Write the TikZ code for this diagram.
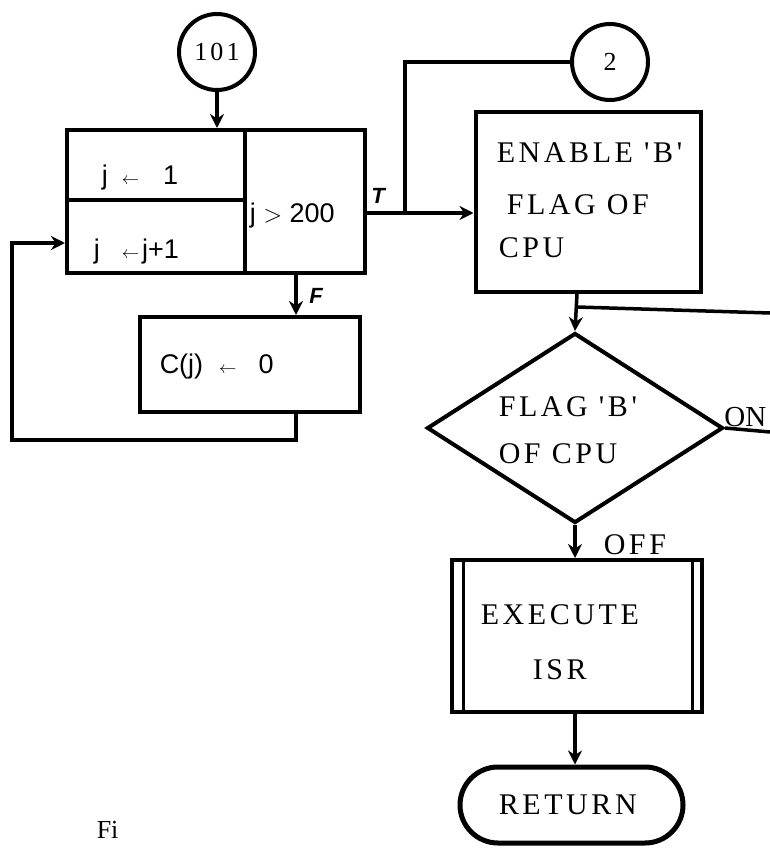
\documentclass[tikz,border=0pt]{standalone}
\usepackage{fontspec}
\setmainfont{Liberation Serif}
\setmonofont{Liberation Serif}[LetterSpace=12]
\newfontfamily\sansf{Liberation Sans}
\usetikzlibrary{arrows.meta,shapes.geometric}
\tikzset{
  arr/.style={-{Stealth[length=14pt,width=14pt]}},
  box/.style={draw, rectangle, inner sep=0pt, line width=4pt},
  tw/.style={font=\ttfamily\fontsize{30}{32}\selectfont, inner sep=0pt, anchor=base west},
  sw/.style={font=\sansf\fontsize{27}{30}\selectfont, inner sep=0pt, anchor=base west},
  lbl/.style={font=\sansf\bfseries\itshape\fontsize{22}{24}\selectfont, inner sep=0pt}
}
\newcommand{\sarr}{{\fontsize{17}{18}\selectfont$\leftarrow$}}
\begin{document}
\begin{tikzpicture}[x=1pt,y=-1pt,line width=3.5pt]
\useasboundingbox (0,0) rectangle (770,848);

% left part
\node[draw, circle, line width=4pt, minimum size=76pt, inner sep=0pt,
      font=\ttfamily\fontsize{26}{28}\selectfont] (c101) at (217,52) {101};
\node[box, minimum width=298pt, minimum height=143pt] (comp) at (216,201.5) {};
\draw[line width=3.5pt] (245,130) -- (245,273);
\draw[line width=3.5pt] (67,200) -- (245,200);
\node[sw] (t1) at (100,184) {j\hspace{14pt}\sarr\hspace{24pt}1};
\node[sw] (t2) at (92,258) {j\hspace{22pt}\sarr\hspace{3pt}j+1};
\node[sw] (t3) at (248,222) {j $>$ 200};
\node[box, minimum width=220pt, minimum height=95pt] (cj) at (250,364.5) {};
\node[sw] (t4) at (158,373) {C(j)\hspace{16pt}\sarr\hspace{22pt}0};
\node[lbl] (lT) at (378,196) {T};
\node[lbl] (lF) at (316,296) {F};
\coordinate (fx) at (296,0);
\coordinate (lc) at (12,440);
\coordinate (lin) at (0,243);
\draw[arr] (c101.south) -- (c101.south |- comp.north);
\draw[arr] (comp.south -| fx) -- (cj.north -| fx);
\draw[arr] (cj.south -| fx) |- (lc) |- (comp.west |- lin);

% right part
\node[draw, circle, line width=4pt, minimum size=76pt, inner sep=0pt,
      font=\ttfamily\fontsize{26}{28}\selectfont] (c2) at (610,62) {2};
\node[box, minimum width=225pt, minimum height=180pt] (en) at (588,202) {};
\node[tw] (en1) at (495,162) {ENABLE 'B'};
\node[tw] (en2) at (505,214) {FLAG OF};
\node[tw] (en3) at (497,257) {CPU};
\coordinate (jT) at (405,213);
\draw[arr] (comp.east |- jT) -- (en.west |- jT);
\draw (c2.west) -| (jT);

\node[draw, diamond, aspect=1.56, minimum width=296pt, minimum height=190pt,
      inner sep=0pt, line width=4pt] (dia) at (575,428) {};
\node[tw] (d1) at (497,416) {FLAG 'B'};
\node[tw] (d2) at (497,463) {OF CPU};
\coordinate (jn) at (577,307);
\coordinate (rin) at (770,313);
\draw[arr] (en.south -| jn) -- (dia.north);
\draw (rin) -- (jn);
\coordinate (ron) at (770,432);
\draw (dia.east) -- (ron);
\node[anchor=base east, inner sep=0pt, font=\fontsize{29}{30}\selectfont] (on) at (768,426) {ON};

\node[box, minimum width=250pt, minimum height=152pt] (ex) at (577,636) {};
\draw[line width=3pt] ([xshift=13pt]ex.north west) -- ([xshift=13pt]ex.south west);
\draw[line width=3pt] ([xshift=-12pt]ex.north east) -- ([xshift=-12pt]ex.south east);
\node[tw] (ext) at (479,624) {EXECUTE};
\node[tw] (isr) at (531,679) {ISR};
\draw[arr] (dia.south) -- (dia.south |- ex.north);
\node[tw] (off) at (602,554) {OFF};

\node[draw, rectangle, rounded corners=38pt, minimum width=223pt, minimum height=76pt,
      inner sep=0pt, line width=5pt] (ret) at (571.5,805) {};
\node[tw] (rett) at (497,814) {RETURN};
\draw[arr] (ex.south -| dia.south) -- (ret.north -| dia.south);

\node[anchor=base west, font=\fontsize{26}{28}\selectfont, inner sep=0pt] (fig) at (95,838) {Fi};
\end{tikzpicture}
\end{document}
